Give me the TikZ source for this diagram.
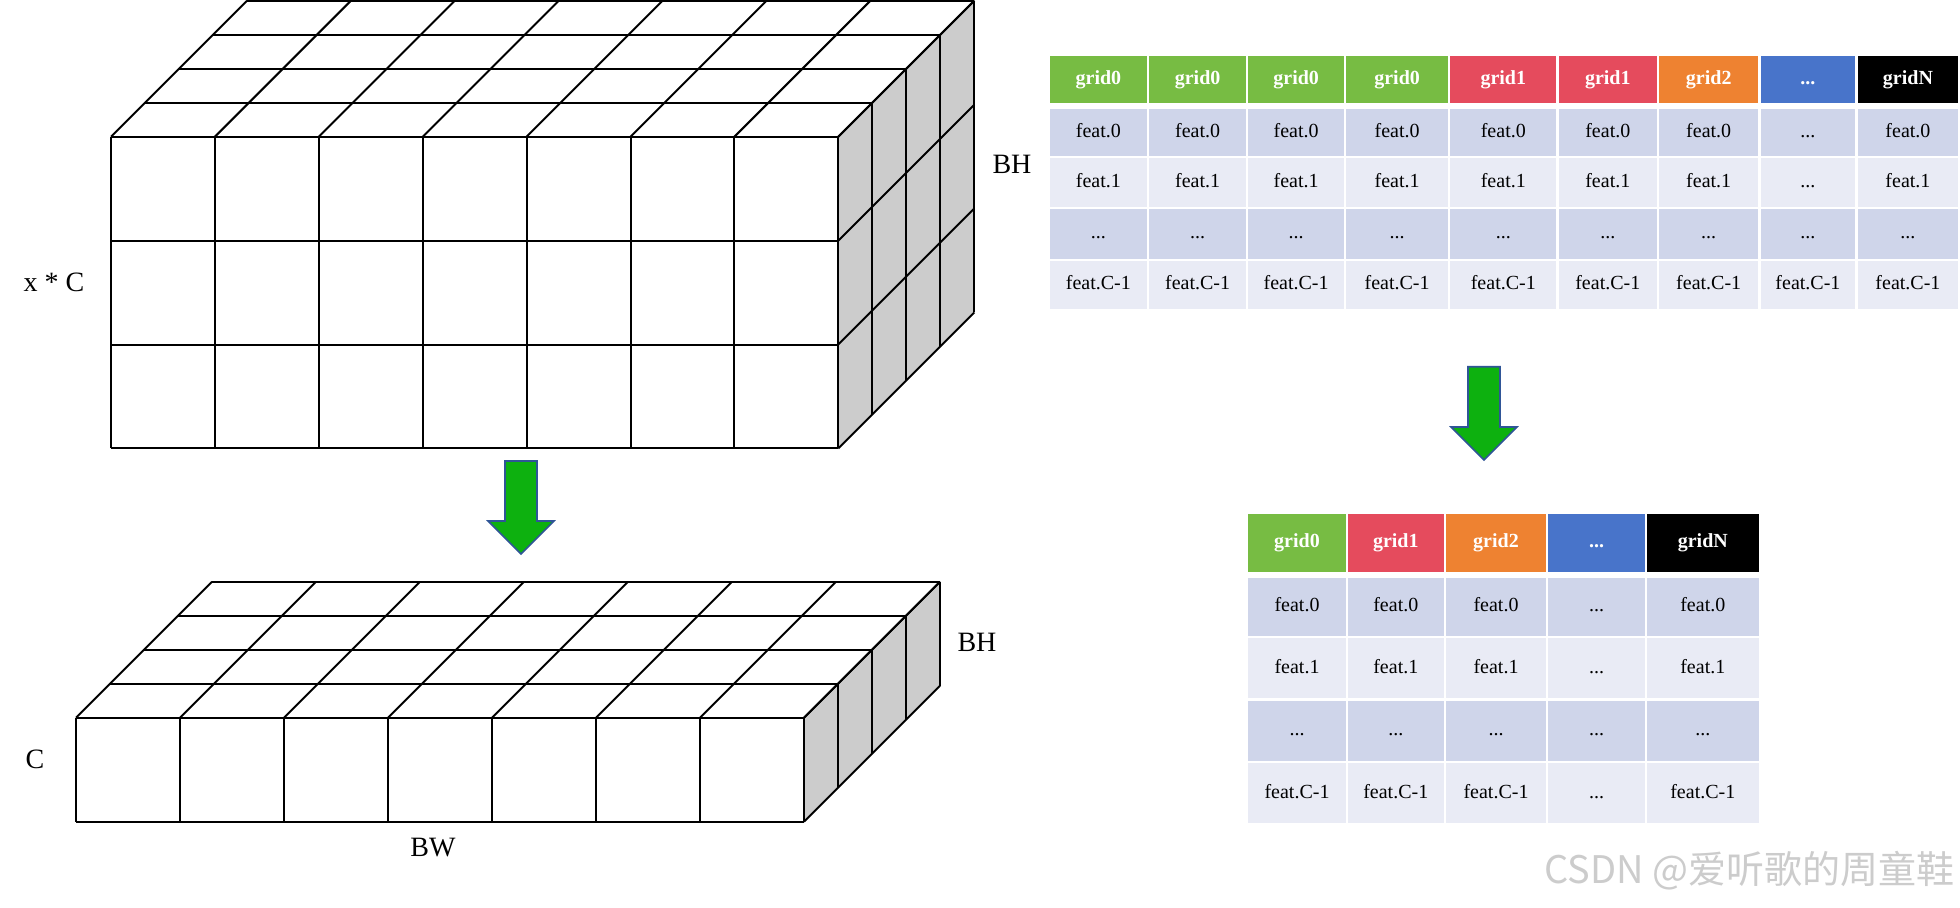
\documentclass[tikz,border=0pt]{standalone}
\usepackage{fontspec}
\setmainfont{Liberation Serif}
\newfontfamily\cjkfont{Noto Sans CJK SC}
\definecolor{sidegray}{HTML}{CCCCCC}
\definecolor{rowdark}{HTML}{CFD5EA}
\definecolor{rowlight}{HTML}{E9EBF5}
\definecolor{hgreen}{HTML}{77BC43}
\definecolor{hred}{HTML}{E54B5D}
\definecolor{horange}{HTML}{EE8231}
\definecolor{hblue}{HTML}{4874CA}
\definecolor{hblack}{HTML}{000000}
\definecolor{arrowfill}{HTML}{0DB10F}
\definecolor{arrowedge}{HTML}{2F5597}
\newcommand\tdots{...}
\tikzset{
  cubeline/.style={draw=black, line width=1pt},
  lbl/.style={inner sep=0, font=\fontsize{14}{16}\selectfont},
  hdr/.style={inner sep=0, outer sep=0, text=white, text height=7pt, text depth=2.2pt, font=\bfseries\fontsize{10}{12}\selectfont},
  body/.style={inner sep=0, outer sep=0, text=black, text height=7pt, text depth=2.2pt, font=\fontsize{10}{12}\selectfont},
  arrowstyle/.style={fill=arrowfill, draw=arrowedge, line width=0.8pt, line join=miter},
}
% #1 x0, #2 y0, #3 rows, #4 cell size, #5 depth step
\newcommand\drawblock[5]{%
  \pgfmathsetmacro\Xr{#1+7*#4}%
  \pgfmathsetmacro\Yb{#2+#3*#4}%
  \pgfmathsetmacro\Dd{4*#5}%
  \fill[sidegray] (\Xr,#2) -- (\Xr+\Dd,#2-\Dd) -- (\Xr+\Dd,\Yb-\Dd) -- (\Xr,\Yb) -- cycle;
  \fill[white] (#1,#2) -- (#1+\Dd,#2-\Dd) -- (\Xr+\Dd,#2-\Dd) -- (\Xr,#2) -- cycle;
  \fill[white] (#1,#2) rectangle (\Xr,\Yb);
  \foreach \i in {0,...,7} \draw[cubeline] ({#1+\i*#4},#2) -- ({#1+\i*#4},\Yb);
  \foreach \j in {0,...,#3} \draw[cubeline] (#1,{#2+\j*#4}) -- (\Xr,{#2+\j*#4});
  \foreach \k in {0,...,4} \draw[cubeline] ({#1+\k*#5},{#2-\k*#5}) -- ({\Xr+\k*#5},{#2-\k*#5});
  \foreach \i in {0,...,7} \draw[cubeline] ({#1+\i*#4},#2) -- ({#1+\i*#4+\Dd},{#2-\Dd});
  \foreach \k in {0,...,4} \draw[cubeline] ({\Xr+\k*#5},{#2-\k*#5}) -- ({\Xr+\k*#5},{\Yb-\k*#5});
  \foreach \j in {0,...,#3} \draw[cubeline] (\Xr,{#2+\j*#4}) -- ({\Xr+\Dd},{#2+\j*#4-\Dd});
}
% name, cx, ytop, ytip
\newcommand\dnarrow[4]{%
  \coordinate (#1) at (#2,#3);
  \filldraw[arrowstyle] ({#2-16},#3) -- ({#2+16},#3) -- ({#2+16},{#4-33}) -- ({#2+33},{#4-33})
     -- (#2,#4) -- ({#2-33},{#4-33}) -- ({#2-16},{#4-33}) -- cycle;
}
% name, x1, y1, x2, y2, fill, style, text
\newcommand\tcell[8]{%
  \node[#7, fill=#6, minimum width={(#4-#2)*0.5pt}, minimum height={(#5-#3)*0.5pt}]
    (#1) at ({(#2+#4)/2},{(#3+#5)/2}) {#8};
}
\begin{document}
\begin{tikzpicture}[x=0.5pt,y=-0.5pt]
\useasboundingbox (0,0) rectangle (1960,907);
\fill[white] (0,0) rectangle (1960,907);

% 3D blocks
\drawblock{111}{136.7}{3}{103.9}{34}
\drawblock{76}{717.7}{1}{104}{34}

% labels
\node[lbl] (bh1) at (1012,164) {BH};
\node[lbl] (xc) at (54,282) {x * C};
\node[lbl] (bh2) at (977,642) {BH};
\node[lbl] (cl) at (35,759) {C};
\node[lbl] (bw) at (433,848) {BW};

% arrows
\dnarrow{arrowL}{521}{461}{554}
\dnarrow{arrowR}{1484}{366.7}{460}

% top-right table
\foreach \a/\b/\n/\c/\t/\p/\q in {
  1050/1146.8/1/hgreen/grid0/feat.0/feat.1,
  1149.2/1246/2/hgreen/grid0/feat.0/feat.1,
  1248.3/1344/3/hgreen/grid0/feat.0/feat.1,
  1346.3/1447.9/4/hgreen/grid0/feat.0/feat.1,
  1450.2/1556.4/5/hred/grid1/feat.0/feat.1,
  1558.8/1656.8/6/hred/grid1/feat.0/feat.1,
  1659.1/1758.3/7/horange/grid2/feat.0/feat.1,
  1760.7/1855.2/8/hblue/\tdots/\tdots/\tdots,
  1857.5/1958.4/9/hblack/gridN/feat.0/feat.1}{
  \tcell{ta-h-\n}{\a}{56}{\b}{102.7}{\c}{hdr}{\t}
  \tcell{ta-1-\n}{\a}{109}{\b}{155.7}{rowdark}{body}{\p}
  \tcell{ta-2-\n}{\a}{158.3}{\b}{206.7}{rowlight}{body}{\q}
  \tcell{ta-3-\n}{\a}{209}{\b}{259}{rowdark}{body}{\tdots}
  \tcell{ta-4-\n}{\a}{261}{\b}{309.3}{rowlight}{body}{feat.C-1}
}

% bottom-right table
\foreach \a/\b/\n/\c/\t/\p/\q/\r in {
  1248/1346/1/hgreen/grid0/feat.0/feat.1/feat.C-1,
  1348/1443.6/2/hred/grid1/feat.0/feat.1/feat.C-1,
  1446/1546/3/horange/grid2/feat.0/feat.1/feat.C-1,
  1548/1645/4/hblue/\tdots/\tdots/\tdots/\tdots,
  1647/1758.6/5/hblack/gridN/feat.0/feat.1/feat.C-1}{
  \tcell{tb-h-\n}{\a}{514}{\b}{571.7}{\c}{hdr}{\t}
  \tcell{tb-1-\n}{\a}{578.3}{\b}{636}{rowdark}{body}{\p}
  \tcell{tb-2-\n}{\a}{638.3}{\b}{698.3}{rowlight}{body}{\q}
  \tcell{tb-3-\n}{\a}{700.7}{\b}{760.7}{rowdark}{body}{\tdots}
  \tcell{tb-4-\n}{\a}{763.3}{\b}{823.3}{rowlight}{body}{\r}
}

% watermark
\node[anchor=east, inner sep=0, text=black!20, font=\cjkfont\fontsize{19}{20}\selectfont] (wm) at (1955,871) {CSDN @爱听歌的周童鞋};
\end{tikzpicture}
\end{document}
